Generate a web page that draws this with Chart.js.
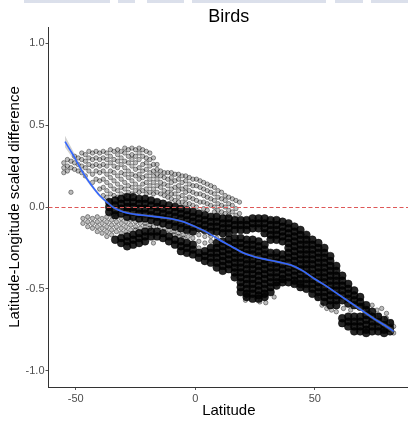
<!DOCTYPE html>
<html><head><meta charset="utf-8">
<script src="https://cdn.jsdelivr.net/npm/chart.js@4.4.1/dist/chart.umd.min.js"></script>
<style>
html,body{margin:0;padding:0;overflow:hidden;background:#fff;width:408px;height:423px}
#wrap{position:relative;width:414px;height:423px}
#strip{position:absolute;left:0;top:0;width:408px;height:3px;opacity:0.8;
background:linear-gradient(to right,#fff 0 6%,#d2d8e6 6% 27%,#fff 27% 29%,#d2d8e6 29% 33%,#fff 33% 36%,#d2d8e6 36% 45%,#fff 45% 47%,#d2d8e6 47% 80%,#fff 80% 82%,#d2d8e6 82% 89%,#fff 89% 91%,#d2d8e6 91%)}
</style></head><body>
<div id="wrap"><canvas id="c" width="414" height="423"></canvas><div id="strip"></div></div>
<script>
// ---- data ----
const xTicks = [-50, 0, 50];
const yTicks = [-1, -0.5, 0, 0.5, 1];
const xRange = [-61.4, 89.5];
const yRange = [-1.1, 1.1];

// loess smooth + standard error band
const smoothX  = [-54.5,-52,-50,-48,-45,-42,-40,-37,-34,-30,-25,-20,-15,-10,-5,0,5,10,15,20,25,30,35,40,45,50,55,60,65,70,75,80,83];
const smoothY  = [0.40,0.34,0.29,0.235,0.165,0.105,0.07,0.03,-0.005,-0.03,-0.045,-0.053,-0.062,-0.072,-0.09,-0.12,-0.155,-0.2,-0.24,-0.28,-0.305,-0.322,-0.337,-0.355,-0.39,-0.44,-0.485,-0.535,-0.585,-0.635,-0.685,-0.73,-0.76];
const smoothSE = [0.035,0.027,0.021,0.017,0.013,0.011,0.01,0.009,0.008,0.007,0.007,0.007,0.007,0.007,0.007,0.007,0.007,0.007,0.007,0.007,0.007,0.007,0.007,0.007,0.007,0.007,0.007,0.007,0.008,0.009,0.01,0.012,0.014];

// scattered (lighter) points: [latitude, [differences...]]
const sparseCols = [
[-55,[0.27,0.24,0.21]],[-53.5,[0.29,0.25,0.22]],[-52,[0.28,0.24,0.09]],[-50.5,[0.31,0.27,0.23]],
[-49,[0.3,0.26,0.22]],[-47.5,[0.33,0.29,0.25,0.21]],[-46,[0.32,0.28,0.24,0.19]],[-44.5,[0.34,0.3,0.26,0.22]],
[-43,[0.33,0.29,0.25,0.2,0.15]],[-41.5,[0.34,0.3,0.26,0.22,0.17]],[-40,[0.33,0.29,0.25,0.21,0.16,0.11]],
[-38.5,[0.34,0.3,0.26,0.22,0.17,0.12,0.07]],[-37,[0.33,0.29,0.25,0.2,0.15,0.1,0.06]],
[-35.5,[0.35,0.31,0.27,0.22,0.18,0.13,0.08,0.04]],[-34,[0.34,0.29,0.25,0.21,0.16,0.11,0.07]],
[-32.5,[0.35,0.32,0.28,0.24,0.19,0.14,0.1,0.06]],[-31,[0.34,0.3,0.26,0.21,0.17,0.12,0.08]],
[-29.5,[0.36,0.33,0.28,0.24,0.2,0.15,0.11,0.07]],[-28,[0.35,0.31,0.27,0.22,0.18,0.13,0.09]],
[-26.5,[0.36,0.32,0.29,0.25,0.2,0.16,0.12,0.08]],[-25,[0.35,0.31,0.27,0.23,0.19,0.14,0.1]],
[-23.5,[0.36,0.33,0.29,0.24,0.2,0.17,0.12,0.09]],[-22,[0.35,0.31,0.26,0.22,0.18,0.14,0.1]],
[-20.5,[0.34,0.3,0.27,0.23,0.19,0.15,0.11,0.08]],[-19,[0.33,0.29,0.25,0.21,0.17,0.13,0.09]],
[-17.5,[0.3,0.26,0.22,0.19,0.15,0.11,0.08]],[-16,[0.26,0.23,0.2,0.17,0.13,0.09]],
[-14.5,[0.22,0.19,0.15,0.12,0.08]],[-13,[0.21,0.18,0.14,0.1,0.07]],[-11.5,[0.21,0.17,0.13,0.09,0.06]],
[-10,[0.21,0.18,0.15,0.11,0.08,0.05]],[-8.5,[0.2,0.16,0.12,0.08,0.04]],[-7,[0.2,0.17,0.13,0.1,0.06,0.03]],
[-5.5,[0.19,0.15,0.11,0.07,0.03]],[-4,[0.19,0.16,0.12,0.09,0.05,0.02]],[-2.5,[0.18,0.14,0.1,0.06,0.02]],
[-1,[0.17,0.13,0.09,0.05,0.01]],[0.5,[0.17,0.13,0.08,0.04,0.0]],[2,[0.16,0.12,0.08,0.03]],
[3.5,[0.15,0.11,0.07,0.03,-0.01]],[5,[0.14,0.1,0.06,0.02,-0.02]],[6.5,[0.13,0.09,0.05,0.01]],
[8,[0.12,0.08,0.04,0.0,-0.03]],[9.5,[0.1,0.06,0.02,-0.02]],[11,[0.09,0.05,0.01,-0.03]],
[12.5,[0.07,0.04,0.0,-0.04]],[14,[0.06,0.02,-0.02,-0.05]],[15.5,[0.05,0.01,-0.03]],
[17,[0.04,-0.01,-0.05]],[18.5,[0.03,-0.04]],
[-47,[-0.07,-0.1]],[-45,[-0.06,-0.09,-0.12]],[-43,[-0.07,-0.1,-0.13]],[-41,[-0.06,-0.09,-0.12,-0.15]],
[-39,[-0.07,-0.1,-0.13,-0.16]],[-37,[-0.06,-0.09,-0.12,-0.15,-0.18]],[-35,[-0.05,-0.08,-0.11,-0.14,-0.17]],
[-33,[-0.06,-0.09,-0.12,-0.15]],[-31,[-0.07,-0.1,-0.13,-0.16]],[-29,[-0.09,-0.12,-0.15]],
[-27,[-0.08,-0.11,-0.14]],[-25,[-0.09,-0.12,-0.14]],[-23,[-0.1,-0.13]],[-21,[-0.1,-0.12]],
[-19,[-0.11,-0.13]],[-17.5,[-0.12,-0.22]],[-15,[-0.12]],[-13,[-0.13]],[-11,[-0.14]],
[-9,[-0.15,-0.17]],[-7,[-0.16,-0.18]],[-5,[-0.17,-0.19]],[-3,[-0.18]],[-1,[-0.19]],
[1.5,[-0.17,-0.21,-0.25]],[4,[-0.18,-0.22]],[6.5,[-0.18,-0.21]],[9,[-0.19]],
[21,[-0.57]],[27,[-0.58]],[29.5,[-0.585]],[33,[-0.55]],
[51,[-0.56]],[53,[-0.6]],[55,[-0.62]],[57,[-0.63]],[59,[-0.64]],[62,[-0.62]],[65,[-0.63]],
[70,[-0.6]],[72,[-0.62]],[73,[-0.65]],[74,[-0.6]],[76,[-0.63]],[77,[-0.66]],[78,[-0.62]],
[80,[-0.65,-0.68]],[82,[-0.7]],[83,[-0.73,-0.77]]
];

// densely overplotted points: [latitude, [differences...]]
const denseCols = [
[-36,[0.03,0.0,-0.03]],
[-33.5,[0.04,0.01,-0.02,-0.05,-0.2]],
[-31,[0.05,0.02,-0.01,-0.04,-0.19,-0.22]],
[-28.5,[0.06,0.03,0.0,-0.03,-0.06,-0.18,-0.21,-0.24]],
[-26,[0.06,0.03,0.0,-0.03,-0.06,-0.17,-0.2,-0.23]],
[-23.5,[0.05,0.02,-0.01,-0.04,-0.07,-0.16,-0.19,-0.22]],
[-21,[0.05,0.02,-0.01,-0.04,-0.07,-0.15,-0.18,-0.21]],
[-18.5,[0.04,0.01,-0.02,-0.05,-0.08,-0.15,-0.18]],
[-16,[0.03,0.0,-0.03,-0.06,-0.09,-0.15,-0.18]],
[-13.5,[0.02,-0.01,-0.04,-0.07,-0.1,-0.16,-0.19]],
[-11,[0.01,-0.02,-0.05,-0.08,-0.11,-0.18,-0.21]],
[-8.5,[0.0,-0.03,-0.06,-0.09,-0.12,-0.2,-0.23]],
[-6,[-0.01,-0.04,-0.07,-0.1,-0.13,-0.21,-0.24,-0.27]],
[-3.5,[-0.02,-0.05,-0.08,-0.11,-0.14,-0.22,-0.25,-0.28]],
[-1,[-0.03,-0.06,-0.09,-0.12,-0.15,-0.23,-0.26,-0.29]],
[1.5,[-0.04,-0.07,-0.1,-0.13,-0.28,-0.31]],
[4,[-0.05,-0.08,-0.11,-0.14,-0.27,-0.3,-0.33]],
[6.5,[-0.06,-0.09,-0.12,-0.15,-0.25,-0.28,-0.31,-0.34]],
[9,[-0.06,-0.09,-0.12,-0.15,-0.22,-0.25,-0.28,-0.31,-0.34,-0.37]],
[11.5,[-0.07,-0.1,-0.13,-0.16,-0.21,-0.24,-0.27,-0.3,-0.33,-0.36,-0.39]],
[14,[-0.07,-0.1,-0.13,-0.16,-0.2,-0.23,-0.26,-0.29,-0.32,-0.35,-0.38]],
[16.5,[-0.08,-0.11,-0.14,-0.19,-0.22,-0.25,-0.28,-0.31,-0.34,-0.37,-0.4,-0.43]],
[19,[-0.08,-0.11,-0.14,-0.19,-0.22,-0.25,-0.28,-0.31,-0.34,-0.37,-0.4,-0.43,-0.46,-0.49,-0.52]],
[21.5,[-0.08,-0.11,-0.14,-0.2,-0.23,-0.26,-0.29,-0.32,-0.35,-0.38,-0.41,-0.44,-0.47,-0.5,-0.53,-0.55]],
[24,[-0.07,-0.1,-0.13,-0.2,-0.23,-0.26,-0.29,-0.32,-0.35,-0.38,-0.41,-0.44,-0.47,-0.5,-0.53,-0.56]],
[26.5,[-0.07,-0.1,-0.13,-0.21,-0.24,-0.27,-0.3,-0.33,-0.36,-0.39,-0.42,-0.45,-0.48,-0.51,-0.54,-0.56]],
[29,[-0.07,-0.1,-0.13,-0.16,-0.23,-0.26,-0.29,-0.32,-0.35,-0.38,-0.41,-0.44,-0.47,-0.5,-0.53,-0.55]],
[31.5,[-0.08,-0.11,-0.14,-0.17,-0.2,-0.28,-0.31,-0.34,-0.37,-0.4,-0.43,-0.46,-0.49,-0.52]],
[34,[-0.08,-0.11,-0.14,-0.17,-0.2,-0.28,-0.31,-0.34,-0.37,-0.4,-0.43,-0.46,-0.48]],
[36.5,[-0.09,-0.12,-0.15,-0.18,-0.21,-0.29,-0.32,-0.35,-0.38,-0.41,-0.44,-0.46]],
[39,[-0.1,-0.13,-0.16,-0.19,-0.22,-0.25,-0.28,-0.31,-0.34,-0.37,-0.4,-0.43,-0.46]],
[41.5,[-0.12,-0.15,-0.18,-0.21,-0.24,-0.27,-0.3,-0.33,-0.36,-0.39,-0.42,-0.45,-0.47]],
[44,[-0.14,-0.17,-0.2,-0.23,-0.26,-0.29,-0.32,-0.35,-0.38,-0.41,-0.44,-0.47,-0.49]],
[46.5,[-0.17,-0.2,-0.23,-0.26,-0.29,-0.32,-0.35,-0.38,-0.41,-0.44,-0.47,-0.5]],
[49,[-0.2,-0.23,-0.26,-0.29,-0.32,-0.35,-0.38,-0.41,-0.44,-0.47,-0.5,-0.53]],
[51.5,[-0.22,-0.25,-0.28,-0.31,-0.34,-0.37,-0.4,-0.43,-0.46,-0.49,-0.52,-0.55]],
[54,[-0.25,-0.28,-0.31,-0.34,-0.37,-0.4,-0.43,-0.46,-0.49,-0.52,-0.55,-0.58]],
[56.5,[-0.3,-0.33,-0.36,-0.39,-0.42,-0.45,-0.48,-0.51,-0.54,-0.57,-0.6]],
[59,[-0.36,-0.39,-0.42,-0.45,-0.48,-0.51,-0.54,-0.57,-0.6]],
[61.5,[-0.42,-0.45,-0.48,-0.51,-0.54,-0.57,-0.68,-0.71]],
[64,[-0.47,-0.5,-0.53,-0.56,-0.59,-0.67,-0.7,-0.73]],
[66.5,[-0.51,-0.54,-0.57,-0.6,-0.67,-0.7,-0.73,-0.76]],
[69,[-0.55,-0.58,-0.61,-0.67,-0.7,-0.73,-0.76]],
[71.5,[-0.6,-0.63,-0.66,-0.69,-0.72,-0.75,-0.77]],
[74,[-0.64,-0.67,-0.7,-0.73,-0.76]],
[76.5,[-0.67,-0.7,-0.73,-0.76]],
[79,[-0.69,-0.72,-0.75,-0.77]],
[81.5,[-0.71,-0.74,-0.76]]
];

// ---- build library data ----
const toPts = cols => cols.flatMap(([x, ys]) => ys.map(y => ({x, y})));
const sparsePts = toPts(sparseCols);
const densePts = toPts(denseCols);
const smoothPts = smoothX.map((x, i) => ({x, y: smoothY[i]}));
const loPts = smoothX.map((x, i) => ({x, y: smoothY[i] - smoothSE[i]}));
const hiPts = smoothX.map((x, i) => ({x, y: smoothY[i] + smoothSE[i]}));

Chart.defaults.font.family = "'Liberation Sans', Arial, sans-serif";

const zeroLine = {
  id: 'zeroLine',
  afterDatasetDraw(chart, args) {
    if (args.index !== 1) return;
    const {ctx, chartArea: a, scales: {y}} = chart;
    const py = Math.round(y.getPixelForValue(0)) + 0.5;
    ctx.save();
    ctx.beginPath();
    ctx.setLineDash([4, 2.5]);
    ctx.strokeStyle = 'rgb(222,88,88)';
    ctx.lineWidth = 1;
    ctx.moveTo(a.left, py);
    ctx.lineTo(a.right, py);
    ctx.stroke();
    ctx.restore();
  }
};

const tickFont = {size: 11};
new Chart(document.getElementById('c'), {
  type: 'line',
  data: {
    datasets: [
      {data: sparsePts, showLine: false, pointRadius: 2.2, pointBackgroundColor: 'rgba(0,0,0,0.26)',
       pointBorderColor: 'rgba(0,0,0,0.5)', pointBorderWidth: 0.8, order: 4},
      {data: densePts, showLine: false, pointRadius: 3.9, pointBackgroundColor: 'rgba(0,0,0,0.85)',
       pointBorderColor: 'rgba(0,0,0,0.9)', pointBorderWidth: 0.5, order: 3},
      {data: loPts, pointRadius: 0, borderWidth: 0, borderColor: 'rgba(0,0,0,0)', fill: false, order: 2},
      {data: hiPts, pointRadius: 0, borderWidth: 0, borderColor: 'rgba(0,0,0,0)', fill: '-1',
       backgroundColor: 'rgba(153,153,153,0.45)', order: 1},
      {data: smoothPts, pointRadius: 0, borderColor: '#3366FF', borderWidth: 1.6,
       cubicInterpolationMode: 'monotone', fill: false, order: 0}
    ]
  },
  options: {
    responsive: false,
    animation: false,
    events: [],
    layout: {padding: 0},
    plugins: {
      legend: {display: false},
      tooltip: {enabled: false},
      title: {display: true, text: 'Birds', color: '#000', fullSize: false,
              font: {size: 18, weight: 'normal'}, padding: {top: 6, bottom: -0.6}}
    },
    scales: {
      x: {
        type: 'linear', min: xRange[0], max: xRange[1],
        afterBuildTicks: s => { s.ticks = xTicks.map(v => ({value: v})); },
        afterFit: s => { s.height = 36; },
        grid: {drawOnChartArea: false, drawTicks: true, tickLength: 3, color: '#555'},
        border: {display: true, color: '#333', width: 1},
        ticks: {color: '#4d4d4d', font: tickFont, padding: 2, maxRotation: 0, callback: v => String(v)},
        title: {display: true, text: 'Latitude', color: '#000', font: {size: 15}, padding: {top: 0, bottom: 3}}
      },
      y: {
        type: 'linear', min: yRange[0], max: yRange[1],
        afterBuildTicks: s => { s.ticks = yTicks.map(v => ({value: v})); },
        afterFit: s => { s.width = 48.5; },
        grid: {drawOnChartArea: false, drawTicks: true, tickLength: 3, color: '#555'},
        border: {display: true, color: '#333', width: 1},
        ticks: {color: '#4d4d4d', font: tickFont, padding: 1, callback: v => Number(v).toFixed(1)},
        title: {display: true, text: 'Latitude-Longitude scaled difference', color: '#000',
                font: {size: 15}, padding: {top: 6, bottom: 0}}
      }
    }
  },
  plugins: [zeroLine]
});
</script>
</body></html>
